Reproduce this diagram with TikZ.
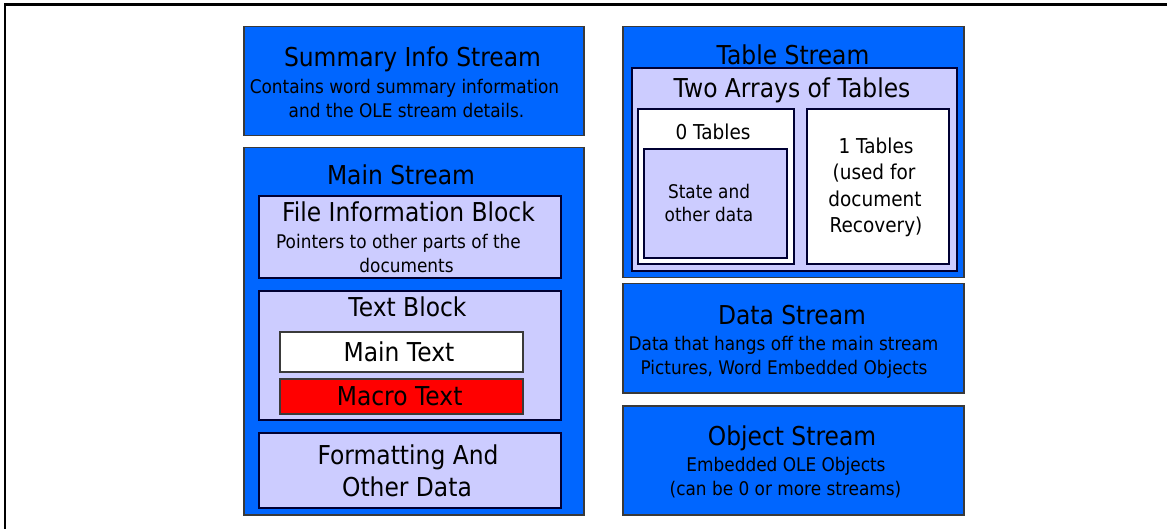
\documentclass[tikz,border=0pt]{standalone}
\usepackage{fontspec}
\setmainfont[FakeStretch=0.9]{DejaVu Sans}
\definecolor{streamblue}{HTML}{0066FF}
\definecolor{lav}{HTML}{CCCCFF}
\definecolor{boxedge}{HTML}{3A3A3A}
\definecolor{inneredge}{HTML}{000033}
\begin{document}
\begin{tikzpicture}[x=1pt,y=-1pt,
  stream/.style={rectangle, draw=boxedge, line width=1.5pt, fill=streamblue, inner sep=0pt, anchor=north west},
  part/.style={rectangle, draw=inneredge, line width=2pt, fill=lav, inner sep=0pt, anchor=north west},
  whitepart/.style={part, fill=white},
  txtbox/.style={rectangle, draw=boxedge, line width=1.5pt, inner sep=0pt, anchor=north west},
  big/.style={font=\fontsize{26}{30}\selectfont, inner sep=0pt, anchor=base},
  mid/.style={font=\fontsize{20.5}{24}\selectfont, inner sep=0pt, anchor=base},
  small/.style={font=\fontsize{18.8}{22}\selectfont, inner sep=0pt, anchor=base},
  frame/.style={line width=2.5pt, black}]
\useasboundingbox (0,0) rectangle (1167,529);
% frame
\coordinate (fbl) at (5.2,529);
\coordinate (ftl) at (5.2,4.3);
\coordinate (ftr) at (1167,4.3);
\draw[frame] (fbl) -- (ftl) -- (ftr);

% Summary
\node[stream, minimum width=340pt, minimum height=109pt] (summary) at (243,26) {};
\node[big] (summaryT) at (412.5,66.7) {Summary Info Stream};
\node[small] (summaryA) at (404.5,93.3) {Contains word summary information};
\node[small] (summaryB) at (406.5,117.3) {and the OLE stream details.};

% Main stream
\node[stream, minimum width=340pt, minimum height=367pt] (main) at (243,147) {};
\node[big] (mainT) at (401,185) {Main Stream};
\node[part, minimum width=302pt, minimum height=82pt] (fib) at (258,195) {};
\node[big] (fibT) at (408.5,221.7) {File Information Block};
\node[small] (fibA) at (398.5,248.3) {Pointers to other parts of the};
\node[small] (fibB) at (406.5,272.7) {documents};
\node[part, minimum width=302pt, minimum height=129pt] (tblock) at (258,290) {};
\node[big] (tblockT) at (407.5,316.7) {Text Block};
\node[txtbox, fill=white, minimum width=243pt, minimum height=40pt] (maintext) at (279,331) {};
\node[big] (maintextT) at (399,361.7) {Main Text};
\node[txtbox, fill=red, minimum width=243pt, minimum height=35pt] (macro) at (279,378) {};
\node[big] (macroT) at (399.6,405) {Macro Text};
\node[part, minimum width=302pt, minimum height=75pt] (fmt) at (258,432) {};
\node[big] (fmtA) at (408,464.3) {Formatting And};
\node[big] (fmtB) at (407,496) {Other Data};

% Table stream
\node[stream, minimum width=341pt, minimum height=251pt] (table) at (622,26) {};
\node[big] (tableT) at (793,64.3) {Table Stream};
\node[part, minimum width=325pt, minimum height=203pt] (arrays) at (631,67) {};
\node[big] (arraysT) at (792,97.3) {Two Arrays of Tables};
\node[whitepart, minimum width=156pt, minimum height=155pt] (zero) at (637,108) {};
\node[mid] (zeroT) at (713,140) {0 Tables};
\node[part, minimum width=143pt, minimum height=109pt] (state) at (643,148) {};
\node[small] (stateA) at (709,198.3) {State and};
\node[small] (stateB) at (709,221.7) {other data};
\node[whitepart, minimum width=142pt, minimum height=155pt] (one) at (806,108) {};
\node[mid] (oneA) at (876,154) {1 Tables};
\node[mid] (oneB) at (874,179.8) {(used for};
\node[mid] (oneC) at (875,206.7) {document};
\node[mid] (oneD) at (876,232.8) {Recovery)};

% Data stream
\node[stream, minimum width=341pt, minimum height=109pt] (data) at (622,283) {};
\node[big] (dataT) at (792,324.3) {Data Stream};
\node[small] (dataA) at (783.5,350) {Data that hangs off the main stream};
\node[small] (dataB) at (784,374) {Pictures, Word Embedded Objects};

% Object stream
\node[stream, minimum width=341pt, minimum height=109pt] (object) at (622,405) {};
\node[big] (objectT) at (792,445) {Object Stream};
\node[small] (objectA) at (786,471.7) {Embedded OLE Objects};
\node[small] (objectB) at (785.5,495) {(can be 0 or more streams)};
\end{tikzpicture}
\end{document}
